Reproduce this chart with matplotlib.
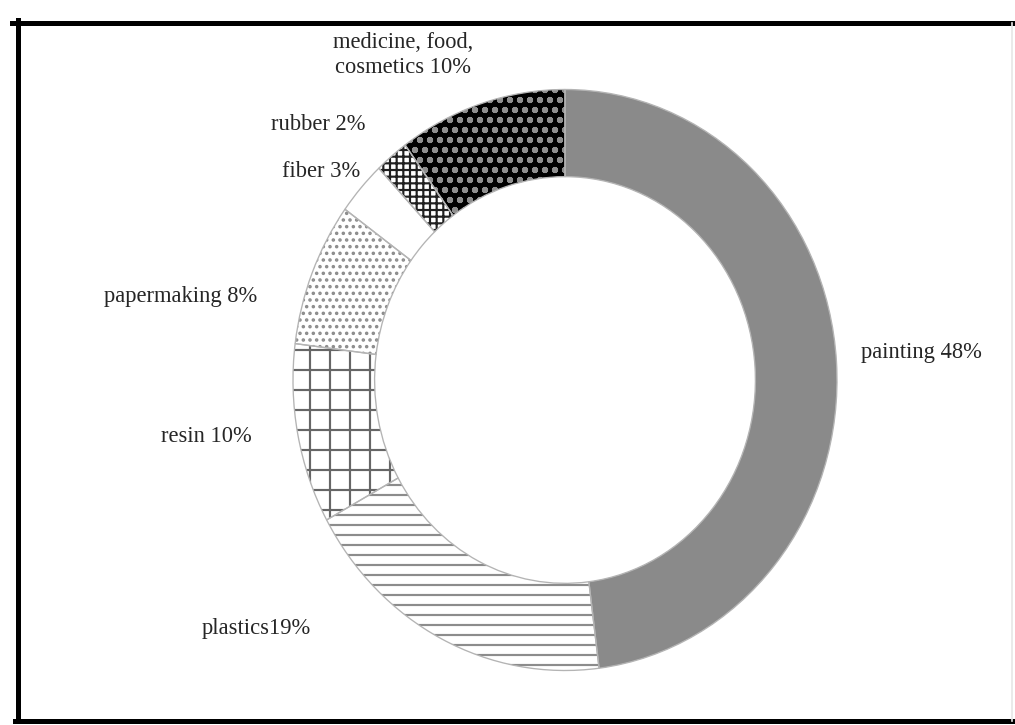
import matplotlib.pyplot as plt
from matplotlib.lines import Line2D

# shares in %, clockwise from the top
labels = ['painting 48%', 'plastics19%', 'resin 10%', 'papermaking 8%',
          'fiber 3%', 'rubber 2%', 'medicine, food,\ncosmetics 10%']
shares = [48, 19, 10, 8, 3, 2, 10]

faces = ['#8a8a8a', 'white', 'white', 'white', 'white', 'white', 'black']
hatches = [None, '--', '+', '...', None, '+++', 'oo']
hatch_cols = ['#8a8a8a', '#8c8c8c', '#666666', '#8c8c8c', 'white', '#202020', '#8e8e8e']

# label centres in data units (ring outer radius = 1)
label_xy = [(1.31, 0.096), (-1.136, -0.854), (-1.32, -0.196), (-1.412, 0.289),
            (-0.897, 0.719), (-0.908, 0.881), (-0.596, 1.119)]

plt.rcParams['hatch.linewidth'] = 1.3

dpi = 120
fig = plt.figure(figsize=(1015 / dpi, 725 / dpi), dpi=dpi)
ax = fig.add_axes([0, 0, 1, 1])

# fill + hatch
wedges, _ = ax.pie(shares, startangle=90, counterclock=False, radius=1,
                   wedgeprops=dict(width=0.3, linewidth=0))
for w, fc, h, hc in zip(wedges, faces, hatches, hatch_cols):
    w.set_facecolor(fc)
    w.set_edgecolor(hc)
    if h:
        w.set_hatch(h)

# thin outlines
outl, _ = ax.pie(shares, startangle=90, counterclock=False, radius=1,
                 wedgeprops=dict(width=0.3, facecolor='none',
                                 edgecolor='#b4b4b4', linewidth=0.8))

for txt, (x, y) in zip(labels, label_xy):
    ax.text(x, y, txt, ha='center', va='center', fontsize=13.5,
            family='Liberation Serif', color='#262626', linespacing=1.3)

# slightly squashed circle, as in the source image
ax.set_aspect('auto')
ax.set_xlim(-565 / 272, 450 / 272)
ax.set_ylim(-345 / 290.5, 380 / 290.5)
ax.axis('off')

# frame around the figure (no right edge)
lw = 3.0
fig.add_artist(Line2D([12 / 1015, 1012 / 1015], [1 - 23 / 725] * 2, color='black', lw=lw))
fig.add_artist(Line2D([18 / 1015] * 2, [1 - 20 / 725, 1 - 721 / 725], color='black', lw=lw))
fig.add_artist(Line2D([15 / 1015, 1012 / 1015], [1 - 721 / 725] * 2, color='black', lw=lw))
fig.add_artist(Line2D([1012 / 1015] * 2, [1 - 23 / 725, 1 - 721 / 725], color='#e6e6e6', lw=1))

fig.savefig('out.png', dpi=dpi)
